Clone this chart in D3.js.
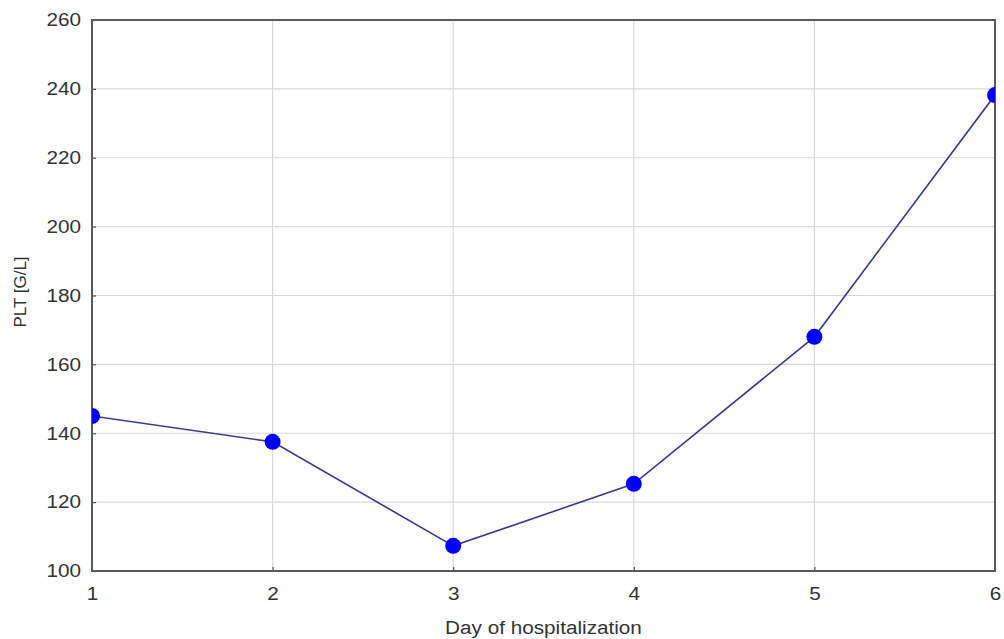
<!DOCTYPE html>
<html>
<head>
<meta charset="utf-8">
<script src="https://cdn.jsdelivr.net/npm/d3@7"></script>
<style>
  body { margin: 0; background: #fff; }
  text { font-family: "Liberation Sans", Arial, sans-serif; fill: #333; }
</style>
</head>
<body>
<script>
var days = [1, 2, 3, 4, 5, 6];
var plt = [145, 137.5, 107.3, 125.3, 168, 238.2];
var yTicks = [100, 120, 140, 160, 180, 200, 220, 240, 260];

var width = 1004, height = 639;
var margin = {top: 20, right: 9, bottom: 68, left: 92};
var w = width - margin.left - margin.right,
    h = height - margin.top - margin.bottom;

var svg = d3.select("body").append("svg")
    .attr("width", width)
    .attr("height", height);

var g = svg.append("g")
    .attr("transform", "translate(" + margin.left + "," + margin.top + ")");

var x = d3.scaleLinear().domain([1, 6]).range([0, w]);
var y = d3.scaleLinear().domain([100, 260]).range([h, 0]);

// grid
g.append("g").selectAll("line")
    .data(days.slice(1, -1))
    .enter().append("line")
    .attr("x1", d => x(d)).attr("x2", d => x(d))
    .attr("y1", 0).attr("y2", h)
    .attr("stroke", "#d9d9d9").attr("stroke-width", 1.2);

g.append("g").selectAll("line")
    .data(yTicks.slice(1, -1))
    .enter().append("line")
    .attr("x1", 0).attr("x2", w)
    .attr("y1", d => y(d)).attr("y2", d => y(d))
    .attr("stroke", "#d9d9d9").attr("stroke-width", 1.2);

// axes (ticks inward)
var xAxis = g.append("g")
    .attr("transform", "translate(0," + h + ")")
    .call(d3.axisBottom(x).tickValues(days).tickFormat(d3.format("d")).tickSizeInner(-4).tickSizeOuter(0).tickPadding(16));
var yAxis = g.append("g")
    .call(d3.axisLeft(y).tickValues(yTicks).tickSizeInner(-4).tickSizeOuter(0).tickPadding(11));

[xAxis, yAxis].forEach(function (a) {
    a.select(".domain").remove();
    a.selectAll(".tick line").attr("stroke", "#555").attr("stroke-width", 1.2);
    a.selectAll(".tick text").style("font-size", "18px").attr("fill", "#333").classed("wide", true);
});

// frame
g.append("rect")
    .attr("width", w).attr("height", h)
    .attr("fill", "none")
    .attr("stroke", "#5a5a5a").attr("stroke-width", 2);

svg.append("defs").append("clipPath").attr("id", "clip")
    .append("rect").attr("width", w).attr("height", h);

var data = days.map((d, i) => ({day: d, v: plt[i]}));

var plot = g.append("g").attr("clip-path", "url(#clip)");

plot.append("path")
    .datum(data)
    .attr("fill", "none")
    .attr("stroke", "#3a3a96")
    .attr("stroke-width", 1.6)
    .attr("d", d3.line().x(d => x(d.day)).y(d => y(d.v)));

plot.selectAll("circle")
    .data(data)
    .enter().append("circle")
    .attr("cx", d => x(d.day))
    .attr("cy", d => y(d.v))
    .attr("r", 8)
    .attr("fill", "#0000ff");

// labels
svg.append("text")
    .attr("class", "wide")
    .attr("x", margin.left + w / 2)
    .attr("y", 634)
    .attr("text-anchor", "middle")
    .style("font-size", "18px")
    .text("Day of hospitalization");

svg.append("text")
    .attr("transform", "translate(26," + 292 + ") rotate(-90)")
    .attr("text-anchor", "middle")
    .style("font-size", "17px")
    .text("PLT [G/L]");

// the source picture is stretched horizontally a little
svg.selectAll("text.wide").each(function () {
    var len = this.getComputedTextLength();
    d3.select(this).attr("textLength", len * 1.15).attr("lengthAdjust", "spacingAndGlyphs");
});
</script>
</body>
</html>
